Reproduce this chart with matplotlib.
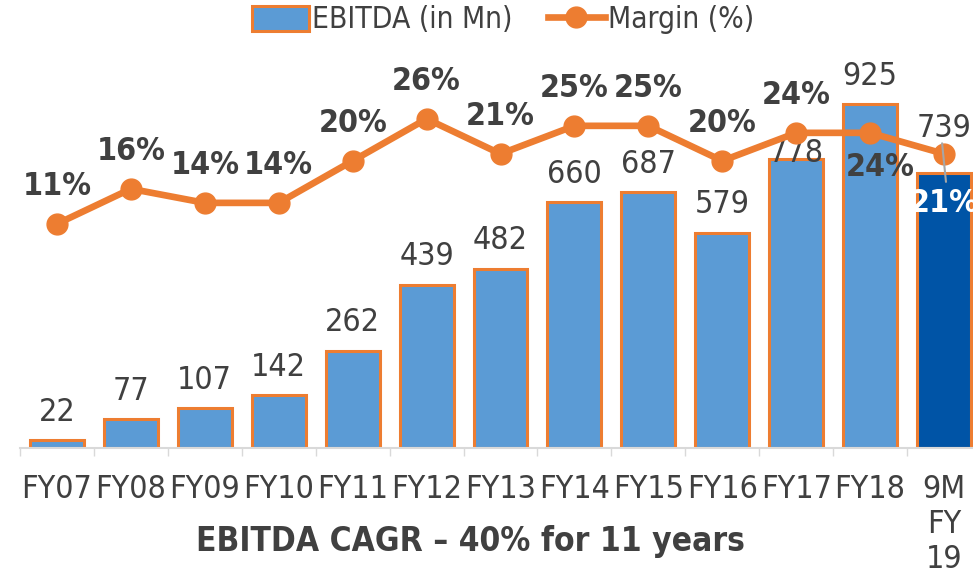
import matplotlib
matplotlib.use('Agg')
import matplotlib.pyplot as plt
from matplotlib.patches import Patch
from matplotlib.lines import Line2D
import numpy as np

plt.rcParams['font.family'] = ['DejaVu Sans']
plt.rcParams['font.stretch'] = 'condensed'

# data
years = ['FY07', 'FY08', 'FY09', 'FY10', 'FY11', 'FY12', 'FY13', 'FY14',
         'FY15', 'FY16', 'FY17', 'FY18', '9M\nFY\n19']
ebitda = [22, 77, 107, 142, 262, 439, 482, 660, 687, 579, 778, 925, 739]
margin = [11, 16, 14, 14, 20, 26, 21, 25, 25, 20, 24, 24, 21]

orange = '#ED7D31'
blue = '#5B9BD5'
dark_blue = '#0054A6'
txt = '#404040'
W, H = 973, 577

fig = plt.figure(figsize=(W / 100, H / 100), dpi=100)
ax = fig.add_axes([20 / W, (H - 448) / H, 961 / W, (448 - 60) / H])
x = np.arange(len(years))

colors = [blue] * (len(years) - 1) + [dark_blue]
ax.bar(x, ebitda, width=0.73, color=colors, edgecolor=orange, linewidth=2.2, zorder=2)
ax.set_xlim(-0.5, len(years) - 0.5)
ax.set_ylim(0, 1043)

ax2 = ax.twinx()
ax2.plot(x, margin, color=orange, lw=4.8, marker='o', ms=15, zorder=3)
ax2.set_ylim(-21, 34.4)

# bar labels (a couple were moved by hand in the original)
bar_off = {10: 4, 12: 32}
for i, v in enumerate(ebitda):
    ax.annotate(f'{v}', (x[i], v), xytext=(0, bar_off.get(i, 20)), textcoords='offset points',
                ha='center', va='center', fontsize=23, color=txt, zorder=5)

# margin labels
m_off = {11: (7, -25), 12: (0, -36)}
for i, v in enumerate(margin):
    dx, dy = m_off.get(i, (0, 27))
    col = 'white' if i == 12 else txt
    ax2.annotate(f'{v}%', (x[i], v), xytext=(dx, dy), textcoords='offset points',
                 ha='center', va='center', fontsize=23, fontweight='bold', color=col, zorder=6)
# leader line for the last label
ax2.annotate('', (x[12] - 0.03, margin[12] + 1.9), xytext=(x[12] + 0.03, margin[12] - 4.4),
             arrowprops=dict(arrowstyle='-', color='#A6A6A6', lw=1.5), zorder=6)

for a in (ax, ax2):
    for s in a.spines.values():
        s.set_visible(False)
    a.set_yticks([])
ax.spines['bottom'].set_visible(True)
ax.spines['bottom'].set_color('#D9D9D9')
ax.spines['bottom'].set_linewidth(1.5)

ax.set_xticks(np.arange(len(years) + 1) - 0.5)
ax.set_xticklabels([])
ax.tick_params(axis='x', which='major', length=6, width=1, color='#D9D9D9', direction='out')
ax.set_xticks(x, minor=True)
ax.set_xticklabels(years, minor=True, fontsize=23, color=txt, linespacing=1.15)
ax.tick_params(axis='x', which='minor', length=0, pad=19)

fig.text(470 / W, 1 - 541 / H, 'EBITDA CAGR – 40% for 11 years', ha='center', va='center',
         fontsize=24, fontweight='bold', color=txt)

handles = [Patch(facecolor=blue, edgecolor=orange, linewidth=2.2),
           Line2D([0], [0], color=orange, lw=4.8, marker='o', ms=15)]
fig.legend(handles, ['EBITDA (in Mn)', 'Margin (%)'], loc='center',
           bbox_to_anchor=(503 / W, 1 - 20 / H), ncol=2, frameon=False,
           fontsize=21.5, labelcolor=txt, handlelength=1.9, handleheight=0.9,
           handletextpad=0.1, columnspacing=1.2)

fig.savefig('out.png', dpi=100)
